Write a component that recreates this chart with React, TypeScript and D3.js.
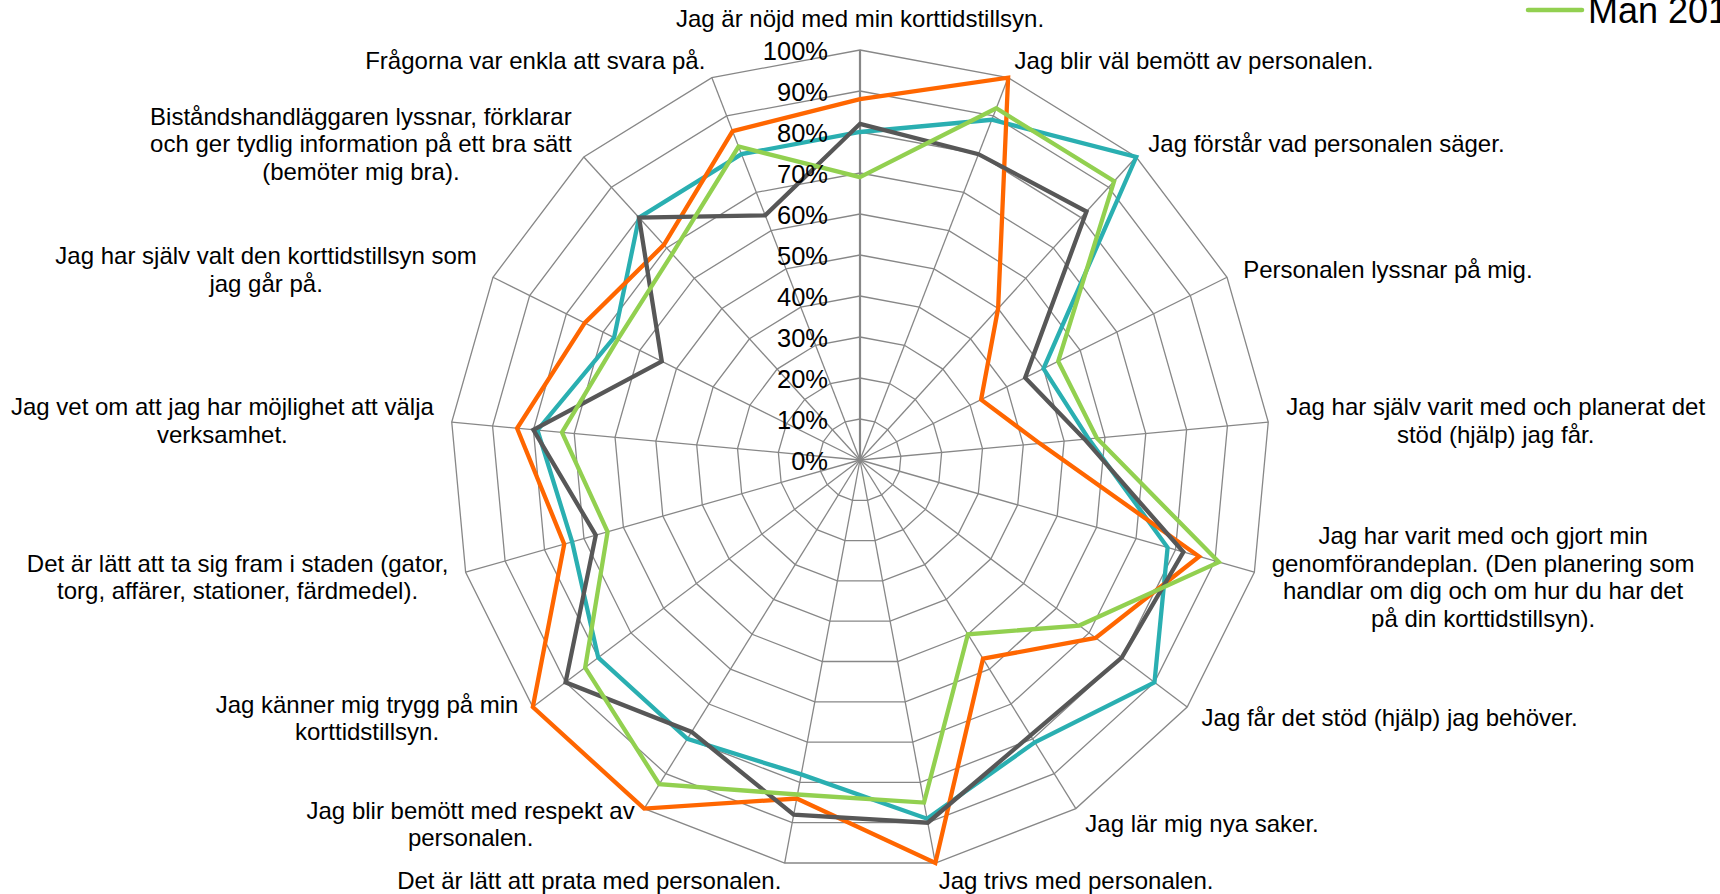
import React, { useEffect, useRef } from 'react';
import * as d3 from 'd3';

// category labels, clockwise from the top; "\n" marks a line break
const categories = [
  'Jag är nöjd med min korttidstillsyn.',
  'Jag blir väl bemött av personalen.',
  'Jag förstår vad personalen säger.',
  'Personalen lyssnar på mig.',
  'Jag har själv varit med och planerat det\nstöd (hjälp) jag får.',
  'Jag har varit med och gjort min\ngenomförandeplan. (Den planering som\nhandlar om dig och om hur du har det\npå din korttidstillsyn).',
  'Jag får det stöd (hjälp) jag behöver.',
  'Jag lär mig nya saker.',
  'Jag trivs med personalen.',
  'Det är lätt att prata med personalen.',
  'Jag blir bemött med respekt av\npersonalen.',
  'Jag känner mig trygg på min\nkorttidstillsyn.',
  'Det är lätt att ta sig fram i staden (gator,\ntorg, affärer, stationer, färdmedel).',
  'Jag vet om att jag har möjlighet att välja\nverksamhet.',
  'Jag har själv valt den korttidstillsyn som\njag går på.',
  'Biståndshandläggaren lyssnar, förklarar\noch ger tydlig information på ett bra sätt\n(bemöter mig bra).',
  'Frågorna var enkla att svara på.',
];

const tealValues = [80, 89, 100, 50, 56, 78, 90, 81, 89, 78, 80, 80, 73, 79, 67, 80, 80];
const orangeValues = [88, 100, 50, 33, 44, 86, 72, 57, 100, 84, 100, 100, 75, 84, 75, 71, 86];
const grayValues = [82, 80, 82, 45, 55, 82, 80, 79, 90, 88, 78, 90, 67, 80, 54, 80, 64];
const greenValues = [69, 92, 92, 54, 58, 91, 67, 50, 85, 83, 93, 84, 64, 73, 66, 68, 82];

const seriesColors = ['#2aafb1', '#ff6600', '#575757', '#92d050'];
const legendName = 'Man 2013';

const tickValues = [0, 10, 20, 30, 40, 50, 60, 70, 80, 90, 100];

const FONT = '"Liberation Sans", Arial, sans-serif';

const App = () => {
  const ref = useRef<SVGSVGElement>(null);

  useEffect(() => {
    const svg = d3.select(ref.current);
    svg.selectAll('*').remove();

    const width = 1720;
    const height = 894;
    const cx = 860;
    const cy = 460;
    const radius = 410;
    const n = categories.length;

    const r = d3.scaleLinear().domain([0, 100]).range([0, radius]);
    const angle = d3.scaleLinear().domain([0, n]).range([0, 2 * Math.PI]);

    const pt = (i: number, v: number): [number, number] => {
      const a = angle(i);
      return [cx + r(v) * Math.sin(a), cy - r(v) * Math.cos(a)];
    };

    svg.attr('width', width).attr('height', height);

    // grid polygons
    const grid = svg.append('g');
    tickValues.slice(1).forEach(t => {
      const pts = d3.range(n).map(i => pt(i, t));
      grid.append('path')
        .attr('d', d3.line()(pts) + 'Z')
        .attr('fill', 'none')
        .attr('stroke', '#878787')
        .attr('stroke-width', 1.3);
    });

    // spokes
    d3.range(n).forEach(i => {
      const [x, y] = pt(i, 100);
      grid.append('line')
        .attr('x1', cx).attr('y1', cy)
        .attr('x2', x).attr('y2', y)
        .attr('stroke', '#878787')
        .attr('stroke-width', i === 0 ? 2.2 : 1.3);
    });

    // series
    const allSeries = [tealValues, orangeValues, grayValues, greenValues];
    const radial = d3.lineRadial<number>()
      .angle((d, i) => angle(i))
      .radius(d => r(d))
      .curve(d3.curveLinearClosed);

    allSeries.forEach((vals, k) => {
      svg.append('path')
        .attr('transform', `translate(${cx},${cy})`)
        .attr('d', radial(vals))
        .attr('fill', 'none')
        .attr('stroke', seriesColors[k])
        .attr('stroke-width', 4.3)
        .attr('stroke-linejoin', 'miter')
        .attr('stroke-miterlimit', 4);
    });

    // tick labels on the top axis
    svg.append('g')
      .selectAll('text')
      .data(tickValues)
      .join('text')
      .attr('x', cx - 32)
      .attr('y', d => cy - r(d) + 1)
      .attr('text-anchor', 'end')
      .attr('dominant-baseline', 'central')
      .style('font-family', FONT)
      .style('font-size', '25.5px')
      .attr('fill', '#000')
      .text(d => d + '%');

    // category labels
    const labelR = radius + 18;
    const lineH = 27.6;
    categories.forEach((label, i) => {
      const lines = label.split('\n');
      const a = angle(i);
      const s = Math.sin(a);
      const c = Math.cos(a);
      const px = cx + labelR * s;
      const py = cy - labelR * c;

      const text = svg.append('text')
        .style('font-family', FONT)
        .style('font-size', '24px')
        .attr('fill', '#000')
        .attr('text-anchor', 'middle');

      const tspans = lines.map(l => text.append('tspan').text(l));
      const widths = tspans.map(t => (t.node() as SVGTSpanElement).getComputedTextLength());
      const w = d3.max(widths) || 0;
      const h = lines.length * lineH;

      let centerX: number;
      let centerY: number;
      if (Math.abs(s) < 0.01) {
        centerX = px;
        centerY = py - h / 2;
      } else if (s > 0) {
        centerX = px + w / 2;
        centerY = py;
      } else {
        centerX = px - w / 2;
        centerY = py;
      }

      tspans.forEach((t, j) => {
        t.attr('x', centerX)
          .attr('y', centerY - h / 2 + lineH * (j + 0.5))
          .attr('dominant-baseline', 'central');
      });
    });

    // legend (cut by the right edge)
    const legend = svg.append('g');
    legend.append('line')
      .attr('x1', 1528).attr('x2', 1582)
      .attr('y1', 10).attr('y2', 10)
      .attr('stroke', seriesColors[3])
      .attr('stroke-width', 4.5)
      .attr('stroke-linecap', 'round');
    legend.append('text')
      .attr('x', 1588)
      .attr('y', 23)
      .style('font-family', FONT)
      .style('font-size', '36px')
      .attr('fill', '#000')
      .text(legendName);
  }, []);

  return (
    <svg
      ref={ref}
      style={{ position: 'absolute', left: 0, top: 0, overflow: 'hidden', background: '#fff' }}
    ></svg>
  );
};

export default App;
